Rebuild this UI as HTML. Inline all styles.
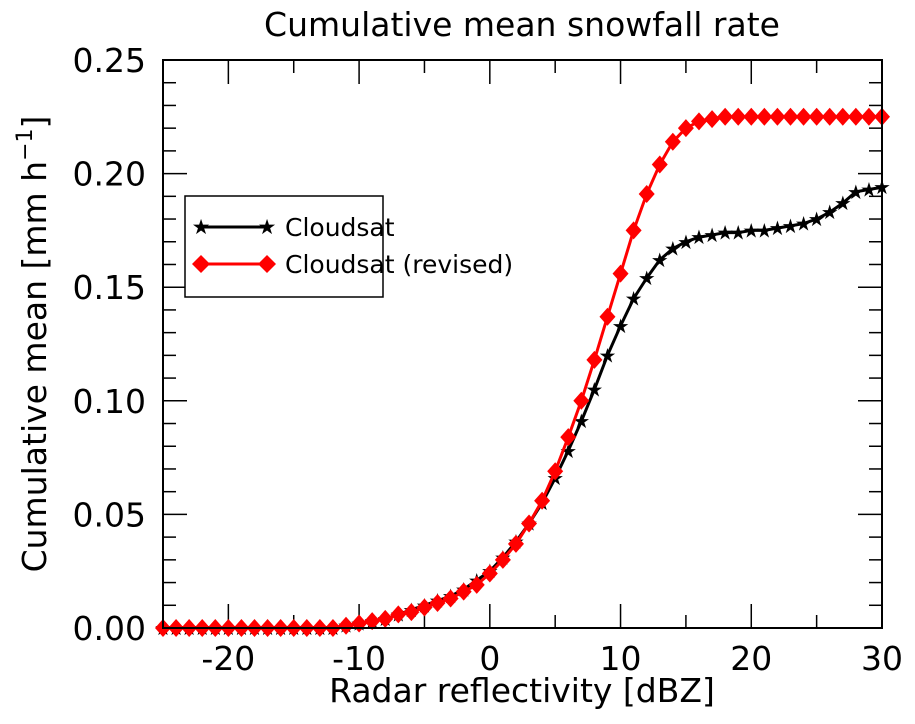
<!DOCTYPE html>
<html><head><meta charset="utf-8"><style>
body{margin:0;background:#fff;}
svg text{font-family:"DejaVu Sans","Liberation Sans",sans-serif;}
</style></head><body>
<svg id="chart" width="915" height="719" xmlns="http://www.w3.org/2000/svg">
<rect width="915" height="719" fill="#fff"/>
<text x="522" y="36" font-size="33" text-anchor="middle">Cumulative mean snowfall rate</text>
<g id="ticks"></g>
<g id="series"></g>
<rect x="163" y="60" width="719" height="568" fill="none" stroke="#000" stroke-width="2"/>
<text x="522" y="702" font-size="33" text-anchor="middle">Radar reflectivity [dBZ]</text>
<text transform="translate(46,344) rotate(-90)" font-size="33" text-anchor="middle">Cumulative mean [mm h<tspan dy="-14" font-size="22">−1</tspan><tspan dy="14">]</tspan></text>
<g>
<rect x="185" y="196" width="198" height="101" fill="#fff" stroke="#000" stroke-width="1.5"/>
<line x1="201" y1="227" x2="267" y2="227" stroke="#000" stroke-width="3"/>
<text x="201" y="234" font-size="21" text-anchor="middle">★</text>
<text x="267" y="234" font-size="21" text-anchor="middle">★</text>
<text x="285" y="236" font-size="25">Cloudsat</text>
<line x1="201" y1="264" x2="267" y2="264" stroke="#f00" stroke-width="3"/>
<polygon points="192,264 201,255 210,264 201,273" fill="#f00"/>
<polygon points="258,264 267,255 276,264 267,273" fill="#f00"/>
<text x="285" y="273" font-size="25">Cloudsat (revised)</text>
</g>
</svg>
<script>
const dbz = [];
for (let v = -25; v <= 30; v++) dbz.push(v);
const cloudsat = [0,0,0,0,0,0,0,0,0,0,0,0,0,0,0.001,0.002,0.003,0.004,0.006,0.008,0.010,0.012,0.014,0.017,0.021,0.025,0.031,0.038,0.046,0.055,0.066,0.078,0.091,0.105,0.120,0.133,0.145,0.154,0.162,0.167,0.170,0.172,0.173,0.174,0.174,0.175,0.175,0.176,0.177,0.178,0.180,0.183,0.187,0.192,0.193,0.194];
const revised = [0,0,0,0,0,0,0,0,0,0,0,0,0,0,0.001,0.002,0.003,0.004,0.006,0.007,0.009,0.011,0.013,0.016,0.019,0.024,0.030,0.037,0.046,0.056,0.069,0.084,0.100,0.118,0.137,0.156,0.175,0.191,0.204,0.214,0.220,0.223,0.224,0.225,0.225,0.225,0.225,0.225,0.225,0.225,0.225,0.225,0.225,0.225,0.225,0.225];
const xTicks = [-20,-10,0,10,20,30];
const yTicks = [0,0.05,0.10,0.15,0.20,0.25];
const NS = "http://www.w3.org/2000/svg";
const X0=163,X1=882,Y0=628,Y1=60;
const xs = v => X0 + (v+25)/55*(X1-X0);
const ys = v => Y0 - v/0.25*(Y0-Y1);
function mk(tag, attrs, parent){const e=document.createElementNS(NS,tag);for(const k in attrs)e.setAttribute(k,attrs[k]);parent.appendChild(e);return e;}
const tg=document.getElementById('ticks');
for(let v=-25;v<=30;v+=5){
  const maj=v%10===0, L=maj?24:13, x=xs(v);
  const t1=mk('line',{x1:x,y1:Y0,x2:x,y2:Y0-L,stroke:'#000','stroke-width':1.5},tg);
  
  
  mk('line',{x1:x,y1:Y1,x2:x,y2:Y1+L,stroke:'#000','stroke-width':1.5},tg);
}
xTicks.forEach(v=>{
  const t=mk('text',{x:xs(v),y:670,'font-size':33,'text-anchor':'middle'},tg);
  t.textContent=(v<0?'-'+(-v):v);
  
  
});
for(let i=0;i<=25;i++){
  const v=i/100, maj=i%5===0, L=maj?24:13, y=ys(v);
  const t1=mk('line',{x1:X0,y1:y,x2:X0+L,y2:y,stroke:'#000','stroke-width':1.5},tg);
  
  
  mk('line',{x1:X1,y1:y,x2:X1-L,y2:y,stroke:'#000','stroke-width':1.5},tg);
}
yTicks.forEach(v=>{
  const t=mk('text',{x:146,y:ys(v)+12,'font-size':33,'text-anchor':'end'},tg);
  t.textContent=v.toFixed(2);
  
  
});
const sg=document.getElementById('series');
const p1=mk('polyline',{points:dbz.map((d,i)=>xs(d)+','+ys(cloudsat[i])).join(' '),fill:'none',stroke:'#000','stroke-width':3},sg);


dbz.forEach((d,i)=>{
  const t=mk('text',{x:xs(d),y:ys(cloudsat[i])+7,'font-size':20,'text-anchor':'middle'},sg);
  t.textContent='★';
  
  
});
const p2=mk('polyline',{points:dbz.map((d,i)=>xs(d)+','+ys(revised[i])).join(' '),fill:'none',stroke:'#f00','stroke-width':3},sg);


dbz.forEach((d,i)=>{
  const x=xs(d),y=ys(revised[i]);
  const p=mk('polygon',{points:`${x-8},${y} ${x},${y-9} ${x+8},${y} ${x},${y+9}`,fill:'#f00'},sg);
  
  
});
</script>
</body></html>
